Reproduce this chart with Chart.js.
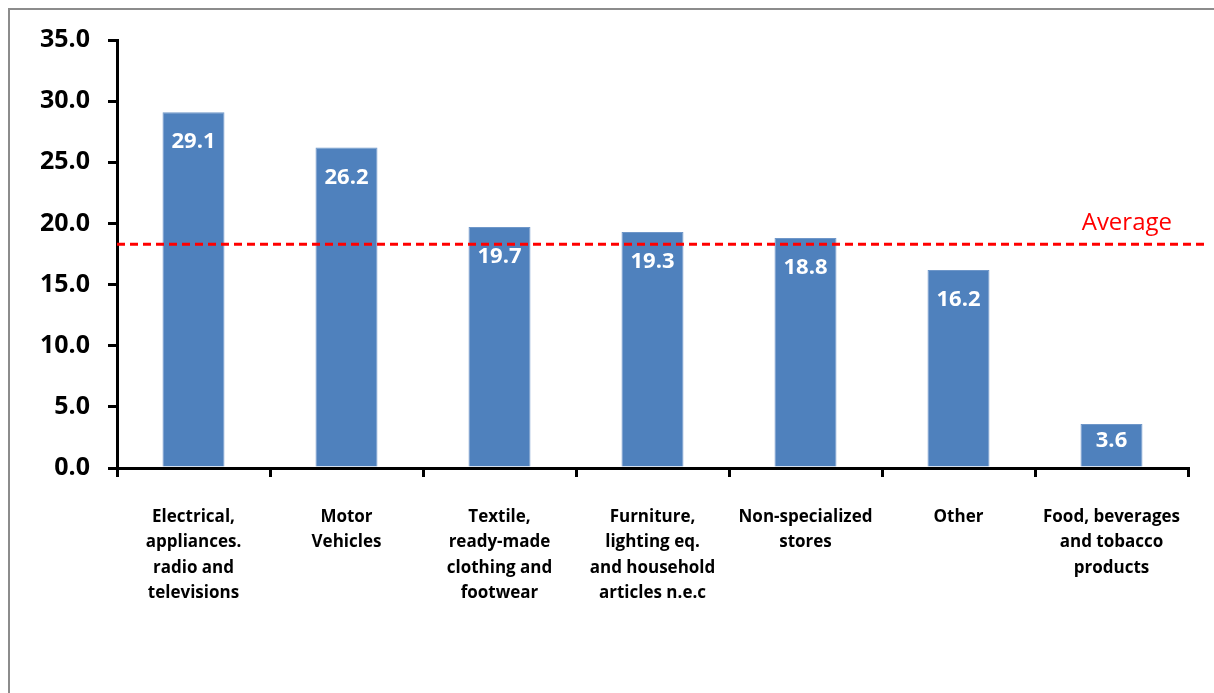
<!DOCTYPE html>
<html>
<head>
  <title>Sector Chart</title>
  <style>
    body {
      margin: 0;
      padding: 0;
      width: 1214px;
      height: 693px;
      overflow: hidden;
      background-color: #ffffff;
      position: relative;
    }

    .frame {
      position: absolute;
      left: 8px;
      top: 8px;
      width: 1300px;
      height: 800px;
      border: 2px solid #8c8c8c;
      box-sizing: border-box;
    }

    .chart-box {
      position: absolute;
      left: 0;
      top: 0;
      width: 1214px;
      height: 693px;
    }
  </style>
  <script src="https://cdn.jsdelivr.net/npm/chart.js"></script>
</head>
<body>
<div class="frame"></div>
<div class="chart-box">
  <canvas id="sectorChart" width="1214" height="693"></canvas>
</div>

<script>
  // Data
  const categories = [
    ['Electrical,', 'appliances.', 'radio and', 'televisions'],
    ['Motor', 'Vehicles'],
    ['Textile,', 'ready-made', 'clothing and', 'footwear'],
    ['Furniture,', 'lighting eq.', 'and household', 'articles n.e.c'],
    ['Non-specialized', 'stores'],
    ['Other'],
    ['Food, beverages', 'and tobacco', 'products']
  ];
  const values = [29.1, 26.2, 19.7, 19.3, 18.8, 16.2, 3.6];
  const averageValue = [18.3];
  const averageLabel = ['Average'];

  const labelFont = '"Open Sans", Lato, sans-serif';

  // white value labels inside the bar tops
  const barLabels = {
    id: 'barLabels',
    afterDatasetsDraw(chart) {
      const ctx = chart.ctx;
      const meta = chart.getDatasetMeta(0);
      ctx.save();
      ctx.fillStyle = '#ffffff';
      ctx.font = 'bold 22px ' + labelFont;
      ctx.textAlign = 'center';
      ctx.textBaseline = 'middle';
      meta.data.forEach((bar, i) => {
        const h = bar.base - bar.y;
        const y = bar.y + Math.min(30, h / 2 - 5);
        ctx.fillText(values[i].toFixed(1), bar.x, y);
      });
      ctx.restore();
    }
  };

  // dashed average line with its label
  const averageLine = {
    id: 'averageLine',
    afterDatasetsDraw(chart) {
      const ctx = chart.ctx;
      const area = chart.chartArea;
      const y = chart.scales.y.getPixelForValue(averageValue[0]);
      ctx.save();
      ctx.strokeStyle = '#ff0000';
      ctx.lineWidth = 3;
      ctx.setLineDash([8, 5]);
      ctx.beginPath();
      ctx.moveTo(area.left, y);
      ctx.lineTo(area.right + 16, y);
      ctx.stroke();
      ctx.setLineDash([]);
      ctx.fillStyle = '#ff0000';
      ctx.font = '24px ' + labelFont;
      ctx.textAlign = 'right';
      ctx.textBaseline = 'alphabetic';
      ctx.fillText(averageLabel[0], area.right - 16, y - 14);
      ctx.restore();
    }
  };

  const ctx = document.getElementById('sectorChart').getContext('2d');

  const sectorChart = new Chart(ctx, {
    type: 'bar',
    data: {
      labels: categories,
      datasets: [
        {
          data: values,
          backgroundColor: '#4f81bd',
          borderColor: '#6f97c9',
          borderWidth: 1,
          categoryPercentage: 1.0,
          barPercentage: 0.405
        }
      ]
    },
    options: {
      responsive: false,
      animation: false,
      layout: {
        padding: { left: 0, right: 26, top: 40, bottom: 0 }
      },
      plugins: {
        legend: { display: false },
        tooltip: { enabled: false }
      },
      scales: {
        x: {
          afterFit(scale) {
            scale.height = 225;
          },
          grid: {
            display: true,
            offset: true,
            drawOnChartArea: false,
            drawTicks: true,
            tickLength: 9,
            color: '#000000',
            lineWidth: 3
          },
          border: { color: '#000000', width: 3 },
          ticks: {
            color: '#000000',
            padding: 27,
            maxRotation: 0,
            autoSkip: false,
            font: { family: labelFont, size: 17, weight: 'bold', lineHeight: 1.5 }
          }
        },
        y: {
          min: 0,
          max: 35,
          afterFit(scale) {
            scale.width = 117;
          },
          grid: {
            display: true,
            drawOnChartArea: false,
            drawTicks: true,
            tickLength: 9,
            color: '#000000',
            lineWidth: 3
          },
          border: { color: '#000000', width: 3 },
          ticks: {
            stepSize: 5,
            color: '#000000',
            padding: 18,
            font: { family: labelFont, size: 25, weight: 'bold' },
            callback: v => v.toFixed(1)
          }
        }
      }
    },
    plugins: [barLabels, averageLine]
  });
</script>

</body>
</html>
